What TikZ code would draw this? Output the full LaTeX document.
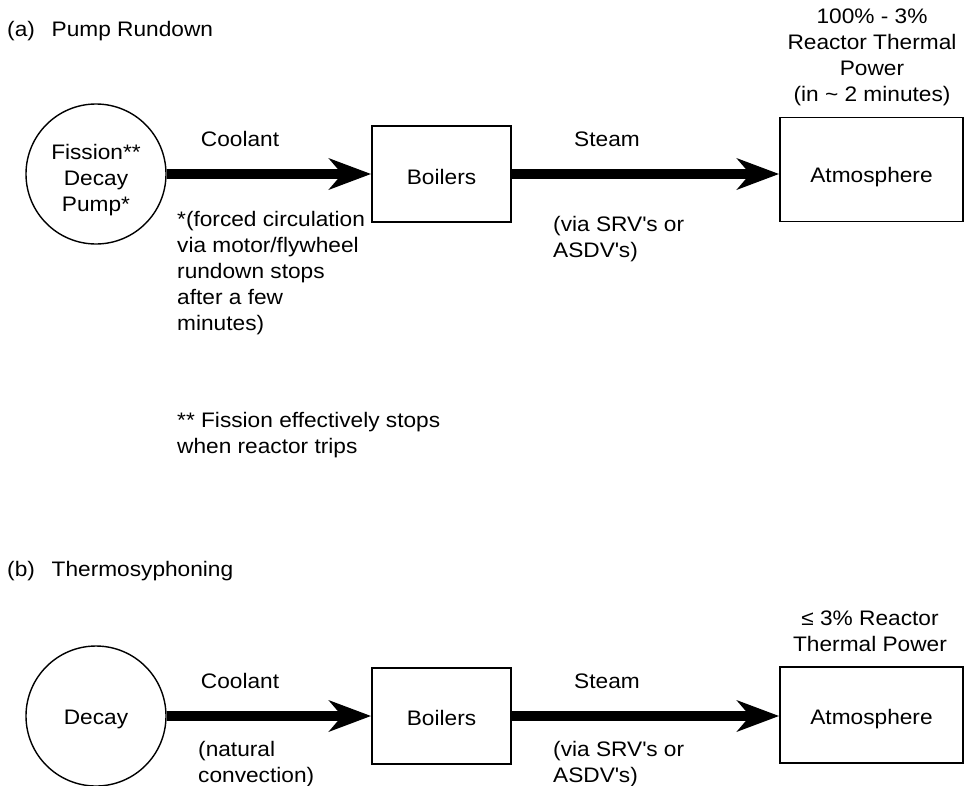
\documentclass[tikz,border=0pt]{standalone}
\usepackage{fontspec}
\setmainfont[FakeStretch=1.08]{Liberation Sans}
\usetikzlibrary{arrows.meta}
\newcommand{\sq}{\textquotesingle}
\begin{document}
\begin{tikzpicture}[x=1pt,y=-1pt,
  every node/.style={font=\fontsize{21}{26}\selectfont},
  txt/.style={inner sep=0pt, align=left},
  ctxt/.style={inner sep=0pt, align=center},
  srcnode/.style={circle, draw, line width=1.4pt, minimum size=140pt, inner sep=0pt, align=center},
  boxnode/.style={draw, line width=1.8pt, inner sep=0pt, text depth=0pt},
  flow/.style={line width=10pt, -{Stealth[length=42pt, width=31pt, inset=13pt]}}
]
\useasboundingbox (0,0) rectangle (966,785);

% ---------- (a) ----------
\node[txt, anchor=north west] (ta) at (7,21) {(a)\hspace{0.5em} Pump Rundown};
\node[srcnode] (c1) at (96,174) {\rule{0pt}{27.5pt}Fission**\\Decay\\Pump*};
\node[boxnode, minimum width=139pt, minimum height=96pt, text height=21pt] (b1) at (441.5,174) {Boilers};
\node[boxnode, minimum width=183pt, minimum height=104pt, text height=26pt] (a1) at (871.5,169.5) {Atmosphere};
\draw[flow] (c1) -- (b1);
\draw[flow] (b1) -- (b1 -| a1.west);
\node[ctxt] (cl1) at (240,139) {Coolant};
\node[ctxt] (st1) at (607,139) {Steam};
\node[txt, anchor=north west] (fn1) at (177,211) {*(forced circulation\\via motor/flywheel\\rundown stops\\after a few\\minutes)};
\node[txt, anchor=north west] (sv1) at (553,216) {(via SRV\sq s or\\ASDV\sq s)};
\node[txt, anchor=north west] (fn2) at (177,412) {** Fission effectively stops\\when reactor trips};
\node[ctxt, anchor=north] (pw1) at (872,9) {100\% - 3\%\\Reactor Thermal\\Power\\(in \textasciitilde{} 2 minutes)};

% ---------- (b) ----------
\node[txt, anchor=north west] (tb) at (7,561) {(b)\hspace{0.5em} Thermosyphoning};
\node[srcnode, text height=17pt, text depth=0pt] (c2) at (96,716) {Decay};
\node[boxnode, minimum width=139pt, minimum height=96pt, text height=19pt] (b2) at (441.5,716) {Boilers};
\node[boxnode, minimum width=183pt, minimum height=96pt, text height=19pt] (a2) at (871.5,715) {Atmosphere};
\draw[flow] (c2) -- (b2);
\draw[flow] (b2) -- (b2 -| a2.west);
\node[ctxt] (cl2) at (240,681) {Coolant};
\node[ctxt] (st2) at (607,681) {Steam};
\node[txt, anchor=north west] (nc2) at (198,741) {(natural\\convection)};
\node[txt, anchor=north west] (sv2) at (553,741) {(via SRV\sq s or\\ASDV\sq s)};
\node[ctxt, anchor=north] (pw2) at (870,611) {≤ 3\% Reactor\\Thermal Power};
\end{tikzpicture}
\end{document}
